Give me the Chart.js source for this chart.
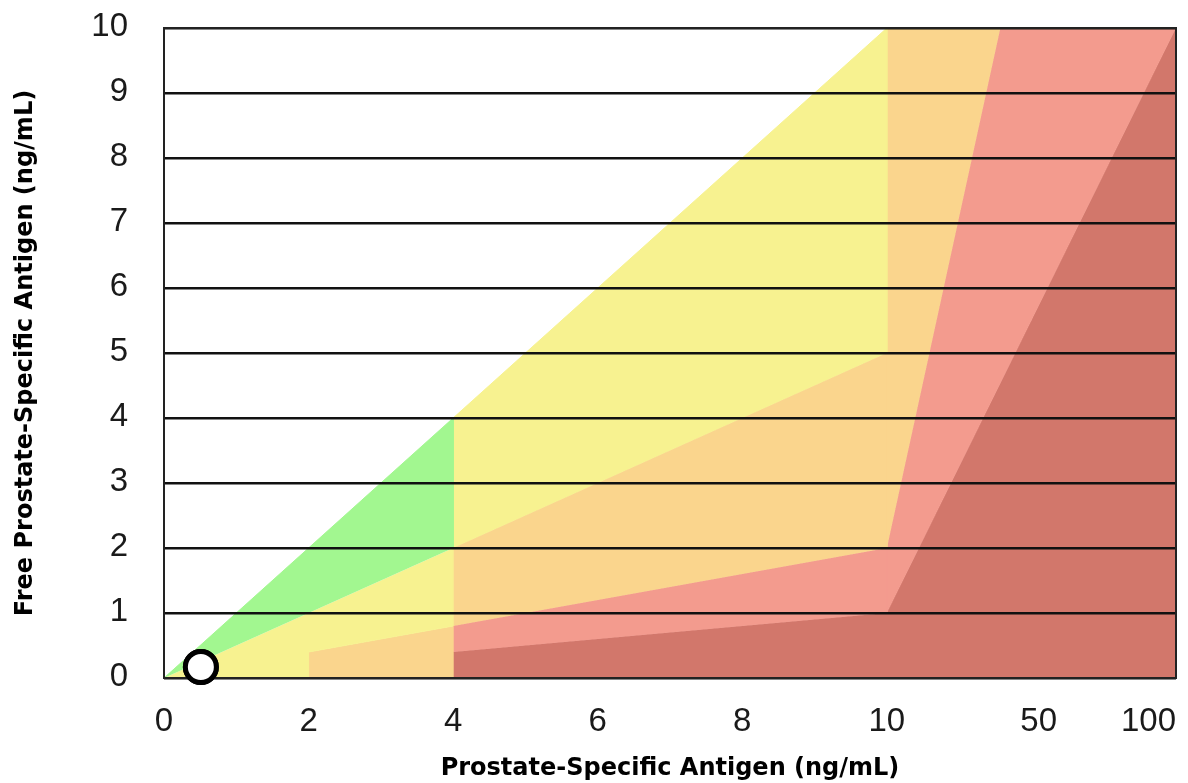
<!DOCTYPE html>
<html>
<head>
<meta charset="utf-8">
<script src="https://cdn.jsdelivr.net/npm/chart.js@4.4.1/dist/chart.umd.min.js"></script>
<style>
  html, body { margin: 0; padding: 0; background: #ffffff; }
  #wrap { width: 1188px; height: 783px; }
</style>
</head>
<body>
<div id="wrap"><canvas id="c" width="1188" height="783"></canvas></div>
<script>
// ---- tick labels (x positions on the display axis, and the labels shown) ----
const xTickValues = [0, 2, 4, 6, 8, 10, 12.1, 13.62];
const xTickLabels = ['0', '2', '4', '6', '8', '10', '50', '100'];
const yTickValues = [0, 1, 2, 3, 4, 5, 6, 7, 8, 9, 10];

// ---- risk zones: [total PSA (display axis), free PSA] vertices ----
const greenZone       = [[0, 0], [4, 4], [4, 2]];
const yellowZoneLow   = [[0, 0], [2, 0], [2, 0.4], [4, 0.8], [4, 2]];
const yellowZoneHigh  = [[4, 2], [4, 4], [10, 10], [10, 5]];
const orangeZoneLow   = [[2, 0.4], [2, 0], [4, 0], [4, 0.8]];
const orangeZoneMid   = [[4, 0.8], [4, 2], [10, 5], [10, 2]];
const orangeZoneHigh  = [[10, 2], [10, 10], [11.57, 10]];
const pinkZoneMid     = [[4, 0.4], [4, 0.8], [10, 2], [10, 1]];
const pinkZoneHigh    = [[10, 1], [10, 2], [11.57, 10], [14, 10]];
const redZone         = [[4, 0], [4, 0.4], [10, 1], [14, 10], [14, 0]];

// ---- patient marker ----
const patientPoint = [[0.51, 0.17]];

const colors = {
  green: '#a2f790',
  yellow: '#f7f290',
  orange: '#fad58d',
  pink: '#f39b8e',
  red: '#d2776b'
};

function zone(points, color) {
  return {
    data: points.map(p => ({ x: p[0], y: p[1] })),
    showLine: true,
    fill: 'shape',
    backgroundColor: color,
    borderColor: color,
    borderWidth: 1,
    pointRadius: 0,
    pointHoverRadius: 0,
    tension: 0,
    clip: false
  };
}

const markerDataset = {
  data: patientPoint.map(p => ({ x: p[0], y: p[1] })),
  showLine: false,
  pointRadius: 15.5,
  pointHoverRadius: 15.5,
  pointBackgroundColor: '#ffffff',
  pointBorderColor: '#000000',
  pointBorderWidth: 5,
  clip: false
};

const datasets = [
  markerDataset,
  zone(greenZone, colors.green),
  zone(yellowZoneLow, colors.yellow),
  zone(yellowZoneHigh, colors.yellow),
  zone(orangeZoneLow, colors.orange),
  zone(orangeZoneMid, colors.orange),
  zone(orangeZoneHigh, colors.orange),
  zone(pinkZoneMid, colors.pink),
  zone(pinkZoneHigh, colors.pink),
  zone(redZone, colors.red)
];

const frameAndMarker = {
  id: 'frameAndMarker',
  afterDraw(chart) {
    const { ctx, chartArea } = chart;
    ctx.save();
    ctx.strokeStyle = '#222222';
    ctx.lineWidth = 2;
    ctx.strokeRect(chartArea.left, chartArea.top, chartArea.right - chartArea.left, chartArea.bottom - chartArea.top);
    ctx.restore();
    const meta = chart.getDatasetMeta(0);
    meta.data.forEach(el => el.draw(ctx));
  }
};

new Chart(document.getElementById('c'), {
  type: 'scatter',
  data: { datasets },
  options: {
    responsive: false,
    animation: false,
    events: [],
    layout: { autoPadding: false, padding: { top: 28, right: 12, left: 0, bottom: 0 } },
    plugins: { legend: { display: false }, tooltip: { enabled: false } },
    scales: {
      x: {
        type: 'linear',
        min: 0,
        max: 14,
        grid: { display: false, drawTicks: false },
        border: { display: false },
        afterBuildTicks: s => { s.ticks = xTickValues.map(v => ({ value: v })); },
        afterFit: s => { s.height = 105; s.paddingLeft = 0; s.paddingRight = 0; },
        ticks: {
          autoSkip: false,
          maxRotation: 0,
          padding: 24,
          color: '#1a1a1a',
          font: { family: "'Liberation Sans', Arial, sans-serif", size: 33 },
          callback: (v, i) => xTickLabels[i]
        },
        title: {
          display: true,
          text: 'Prostate-Specific Antigen (ng/mL)',
          color: '#000000',
          font: { family: "'DejaVu Sans', sans-serif", size: 24, weight: 'bold' },
          padding: { top: 0, bottom: 0 }
        }
      },
      y: {
        type: 'linear',
        min: 0,
        max: 10,
        afterBuildTicks: s => { s.ticks = yTickValues.map(v => ({ value: v })); },
        afterFit: s => { s.width = 164; s.paddingTop = 0; s.paddingBottom = 0; },
        grid: { color: '#111111', lineWidth: 2.5, drawTicks: false, z: 1 },
        border: { display: false },
        ticks: {
          padding: 36,
          labelOffset: -1,
          color: '#1a1a1a',
          font: { family: "'Liberation Sans', Arial, sans-serif", size: 33 }
        },
        title: {
          display: true,
          text: 'Free Prostate-Specific Antigen (ng/mL)',
          color: '#000000',
          font: { family: "'DejaVu Sans', sans-serif", size: 24, weight: 'bold' },
          padding: { top: 11, bottom: 0 }
        }
      }
    }
  },
  plugins: [frameAndMarker]
});
</script>
</body>
</html>
